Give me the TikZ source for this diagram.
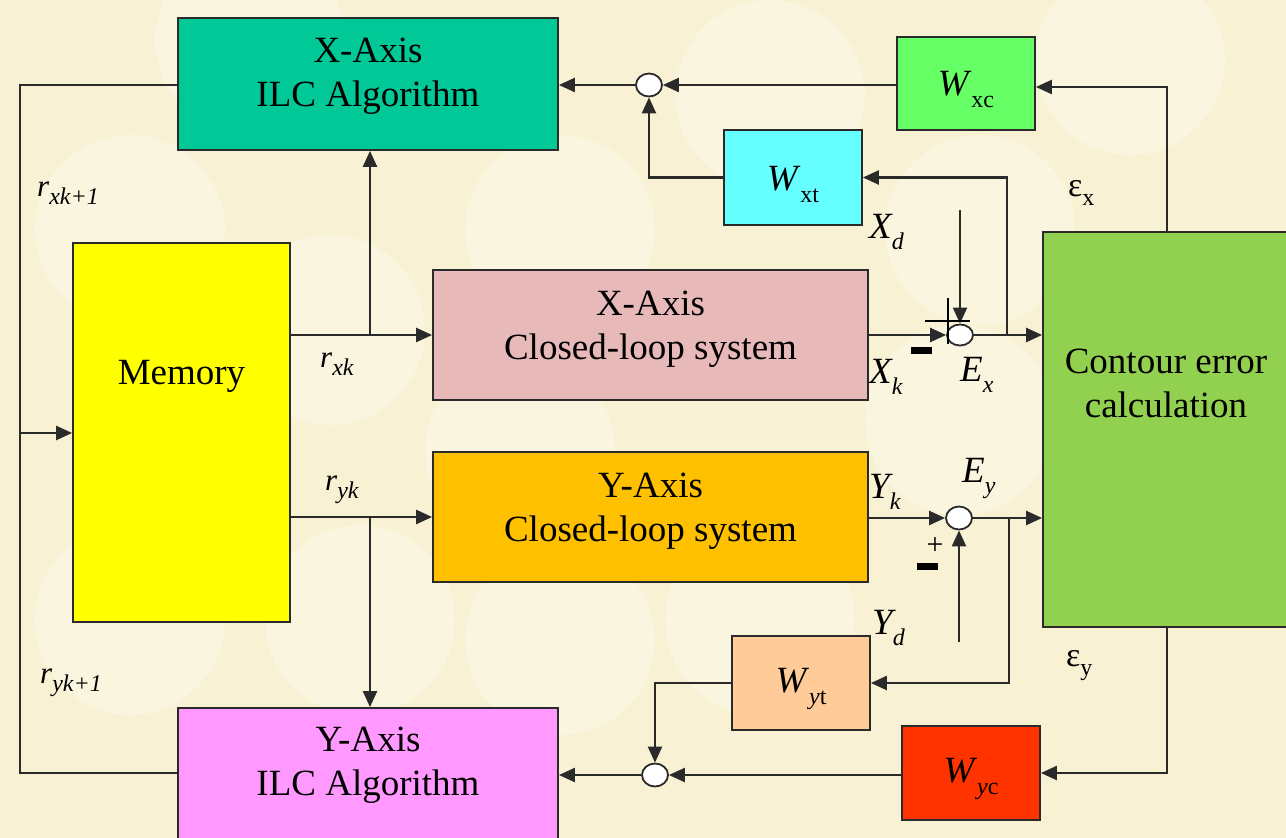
\documentclass[tikz,border=0pt]{standalone}
\usepackage{fontspec}
\setmainfont{Liberation Serif}
\usetikzlibrary{arrows.meta,shapes.geometric}
\definecolor{bg}{HTML}{F8F1D4}
\definecolor{bgc}{HTML}{FAF5DF}
\definecolor{cxilc}{HTML}{00C896}
\definecolor{cmem}{HTML}{FFFF00}
\definecolor{cxcl}{HTML}{E8B9B9}
\definecolor{cycl}{HTML}{FFC000}
\definecolor{cyilc}{HTML}{FF99FF}
\definecolor{cwxc}{HTML}{66FF66}
\definecolor{cwxt}{HTML}{66FFFF}
\definecolor{cwyt}{HTML}{FFCC99}
\definecolor{cwyc}{HTML}{FF3300}
\definecolor{cce}{HTML}{92D050}
\definecolor{ln}{HTML}{2A2A2A}
\newcommand{\sbx}[1]{\raisebox{-0.28em}{\fontsize{24}{24}\selectfont #1}}
\newcommand{\sbw}[1]{\raisebox{-0.3em}{\fontsize{24}{24}\selectfont #1}}
\newcommand{\blt}[2]{\raisebox{#1}[\height][\depth]{\begin{tabular}{@{}c@{}}#2\end{tabular}}}
\tikzset{
  blk/.style={draw=ln, line width=1.8pt, inner sep=0pt,
    font=\fontsize{37}{44}\selectfont},
  wblk/.style={draw=ln, line width=1.8pt, inner sep=0pt, minimum width=138pt, minimum height=94pt,
    font=\fontsize{37}{40}\selectfont},
  sumn/.style={ellipse, draw=ln, line width=1.8pt, fill=white, inner sep=0pt, minimum width=26pt, minimum height=23pt},
  conn/.style={draw=ln, line width=2.3pt},
  arr/.style={conn, -{Triangle[length=16pt,width=14pt]}},
  lbl/.style={font=\fontsize{31}{31}\selectfont\itshape, inner sep=0pt},
  xlbl/.style={font=\fontsize{37}{37}\selectfont\itshape, inner sep=0pt},
}
\begin{document}
\begin{tikzpicture}[x=1pt,y=-1pt]
\useasboundingbox (0,0) rectangle (1286,838);
\fill[bg] (0,0) rectangle (1286,838);
% faint background circles
\foreach \cx/\cy in {130/230,330/330,560/230,770/95,1130/60,130/620,360/620,560/640,760/620,960/420,520/450,250/40,980/230}
  \fill[bgc] (\cx,\cy) circle (95);

% blocks
\node[blk, fill=cxilc, minimum width=380pt, minimum height=132pt] (xilc) at (368,84) {\blt{8pt}{X-Axis\\ILC Algorithm}};
\node[blk, fill=cmem, minimum width=217pt, minimum height=379pt] (mem) at (181.5,432.5) {\blt{57pt}{Memory}};
\node[blk, fill=cxcl, minimum width=435pt, minimum height=130pt] (xcl) at (650.5,335) {\blt{6pt}{X-Axis\\Closed-loop system}};
\node[blk, fill=cycl, minimum width=435pt, minimum height=130pt] (ycl) at (650.5,517) {\blt{6pt}{Y-Axis\\Closed-loop system}};
\node[blk, fill=cyilc, minimum width=380pt, minimum height=134pt] (yilc) at (368,775) {\blt{10pt}{Y-Axis\\ILC Algorithm}};
\node[blk, fill=cce, minimum width=246pt, minimum height=395pt] (ce) at (1166,429.5) {\blt{43pt}{Contour error\\calculation}};
\node[wblk, fill=cwxc, minimum height=93pt] (wxc) at (966,83.5) {\raisebox{-6pt}[\height][\depth]{\textit{W}\sbw{xc}}};
\node[wblk, fill=cwxt, minimum height=95pt] (wxt) at (793,177.5) {\raisebox{-7pt}[\height][\depth]{\textit{W}\sbw{xt}}};
\node[wblk, fill=cwyt] (wyt) at (801,683) {\raisebox{-6pt}[\height][\depth]{\textit{W}\sbw{\textit{y}t}}};
\node[wblk, fill=cwyc] (wyc) at (971,773) {\raisebox{-6pt}[\height][\depth]{\textit{W}\sbw{\textit{y}c}}};

% summing junctions
\node[sumn] (s1) at (649,85) {};
\node[sumn, minimum height=21pt] (sx) at (960,335) {};
\node[sumn] (sy) at (959,518) {};
\node[sumn] (s2) at (655,775) {};

% left feedback bus
\coordinate (lt) at (20,85);
\coordinate (lb) at (20,773);
\coordinate (lm) at (20,433);
\draw[conn] (xilc.west |- lt) -- (lt) -- (lb) -- (yilc.west |- lb);
\draw[arr] (lm) -- (mem.west |- lm);

% memory outputs
\coordinate (bx) at (370,335);
\coordinate (by) at (370,517);
\draw[arr] (mem.east |- xcl) -- (xcl.west);
\draw[arr] (bx) -- (bx |- xilc.south);
\draw[arr] (mem.east |- ycl) -- (ycl.west);
\draw[arr] (by) -- (by |- yilc.north);

% X loop
\draw[arr] (xcl.east) -- (sx.west);
\coordinate (xd) at (960,210);
\draw[arr] (xd) -- (sx.north);
\draw[arr] (sx.east) -- (sx -| ce.west);
\coordinate (bxe) at (1007,335);
\draw[arr] (bxe) |- (wxt.east);
\draw[arr] (wxt.west) -| (s1.south);
\coordinate (cxt) at (1167,87);
\draw[arr] (cxt |- ce.north) -- (cxt) -- (wxc.east |- cxt);
\draw[arr] (wxc.west |- s1) -- (s1.east);
\draw[arr] (s1.west) -- (s1.west -| xilc.east);

% Y loop
\draw[arr] (ycl.east |- sy) -- (sy.west);
\coordinate (yd) at (959,642);
\draw[arr] (yd) -- (sy.south);
\draw[arr] (sy.east) -- (sy -| ce.west);
\coordinate (bye) at (1009,518);
\draw[arr] (bye) |- (wyt.east);
\draw[arr] (wyt.west) -| (s2.north);
\coordinate (cyb) at (1167,773);
\draw[arr] (cyb |- ce.south) -- (cyb) -- (wyc.east |- cyb);
\draw[arr] (wyc.west |- s2) -- (s2.east);
\draw[arr] (s2.west) -- (s2.west -| yilc.east);

% signs
\draw[black, line width=2.5pt] (925,321) -- (970,321);
\draw[black, line width=2.5pt] (948,298) -- (948,344);
\fill[black] (911,347) rectangle (932,354);
\node[font=\fontsize{30}{30}\selectfont, inner sep=0pt] (py) at (935,546) {+};
\fill[black] (917,563) rectangle (938,570);

% labels
\node[lbl, anchor=base west] (rx1) at (37,196) {r\sbx{xk+1}};
\node[lbl, anchor=base west] (ry1) at (40,683) {r\sbx{yk+1}};
\node[lbl, anchor=base west] (rxk) at (320,367) {r\sbx{xk}};
\node[lbl, anchor=base west] (ryk) at (325,490) {r\sbx{yk}};
\node[xlbl, anchor=base west] (lxd) at (869,238) {X\sbw{d}};
\node[xlbl, anchor=base west] (lxk) at (869,383) {X\sbw{k}};
\node[xlbl, anchor=base west] (lex) at (960,381) {E\sbw{x}};
\node[xlbl, anchor=base west] (lyk) at (869,498) {Y\sbw{k}};
\node[xlbl, anchor=base west] (ley) at (962,482) {E\sbw{y}};
\node[xlbl, anchor=base west] (lyd) at (872,634) {Y\sbw{d}};
\node[font=\fontsize{34}{34}\selectfont, inner sep=0pt, anchor=base west] (epx) at (1068,196) {ε\sbx{x}};
\node[font=\fontsize{34}{34}\selectfont, inner sep=0pt, anchor=base west] (epy) at (1066,666) {ε\sbx{y}};
\end{tikzpicture}
\end{document}
